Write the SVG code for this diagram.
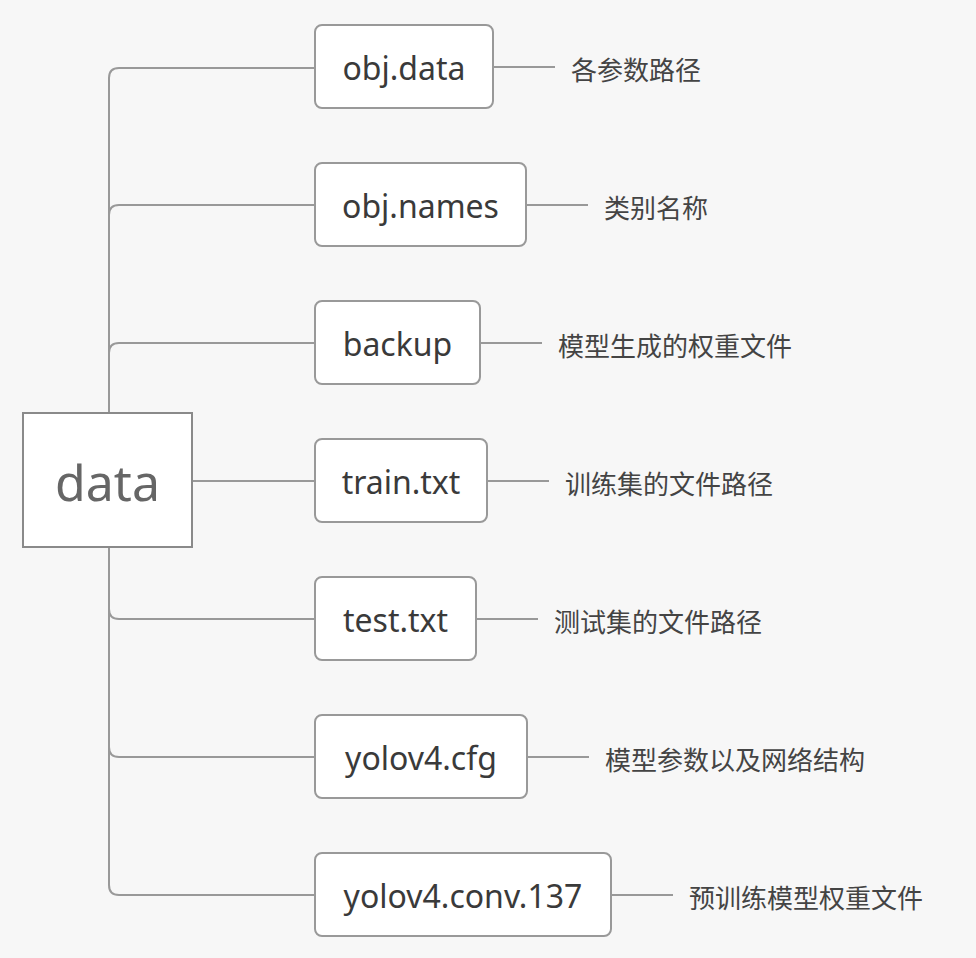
<svg xmlns="http://www.w3.org/2000/svg" width="976" height="958" viewBox="0 0 976 958">
<style>
.bg{fill:#f7f7f7}
.box{fill:#fff;stroke:#999;stroke-width:2}
.root{fill:#fff;stroke:#8a8a8a;stroke-width:2}
.t{font-family:"Noto Sans","Liberation Sans",sans-serif;font-size:32px;fill:#3a3a3a;text-anchor:middle;dominant-baseline:central}
.rt{font-family:"Noto Sans","Liberation Sans",sans-serif;font-size:50px;fill:#666;text-anchor:middle;dominant-baseline:central}
.lb{font-family:"Noto Sans CJK SC","Noto Sans",sans-serif;font-size:26px;fill:#444;dominant-baseline:central}
.c{fill:none;stroke:#999;stroke-width:2}
</style>
<rect class="bg" x="0" y="0" width="976" height="958"/>
<g id="connectors">
<path class="c" d="M109,413 V78 Q109,68 119,68 H315"/>
<path class="c" d="M109,413 V215 Q109,205 119,205 H315"/>
<path class="c" d="M109,413 V353 Q109,343 119,343 H315"/>
<path class="c" d="M192,481 H315"/>
<path class="c" d="M109,547 V609 Q109,619 119,619 H315"/>
<path class="c" d="M109,547 V747 Q109,757 119,757 H315"/>
<path class="c" d="M109,547 V885 Q109,895 119,895 H315"/>
<path class="c" d="M493,67 H555"/>
<path class="c" d="M526,205 H588"/>
<path class="c" d="M480,343 H542"/>
<path class="c" d="M487,481 H549"/>
<path class="c" d="M476,619 H538"/>
<path class="c" d="M527,757 H589"/>
<path class="c" d="M611,895 H673"/>
</g>
<g id="data">
<rect class="root" x="23" y="413" width="169" height="134"/>
<text class="rt" x="107.5" y="482">data</text>
</g>
<g id="obj-data">
<rect class="box" x="315" y="25" width="178" height="83" rx="7"/>
<text class="t" x="404" y="67">obj.data</text>
</g>
<g id="obj-data-label"><text class="lb" x="571" y="68">各参数路径</text></g>
<g id="obj-names">
<rect class="box" x="315" y="163" width="211" height="83" rx="7"/>
<text class="t" x="420.5" y="205">obj.names</text>
</g>
<g id="obj-names-label"><text class="lb" x="604" y="206">类别名称</text></g>
<g id="backup">
<rect class="box" x="315" y="301" width="165" height="83" rx="7"/>
<text class="t" x="397.5" y="343">backup</text>
</g>
<g id="backup-label"><text class="lb" x="558" y="344">模型生成的权重文件</text></g>
<g id="train">
<rect class="box" x="315" y="439" width="172" height="83" rx="7"/>
<text class="t" x="401" y="481">train.txt</text>
</g>
<g id="train-label"><text class="lb" x="565" y="482">训练集的文件路径</text></g>
<g id="test">
<rect class="box" x="315" y="577" width="161" height="83" rx="7"/>
<text class="t" x="395.5" y="619">test.txt</text>
</g>
<g id="test-label"><text class="lb" x="554" y="620">测试集的文件路径</text></g>
<g id="cfg">
<rect class="box" x="315" y="715" width="212" height="83" rx="7"/>
<text class="t" x="421" y="757">yolov4.cfg</text>
</g>
<g id="cfg-label"><text class="lb" x="605" y="758">模型参数以及网络结构</text></g>
<g id="conv">
<rect class="box" x="315" y="853" width="296" height="83" rx="7"/>
<text class="t" x="463" y="895">yolov4.conv.137</text>
</g>
<g id="conv-label"><text class="lb" x="689" y="896">预训练模型权重文件</text></g>
</svg>
